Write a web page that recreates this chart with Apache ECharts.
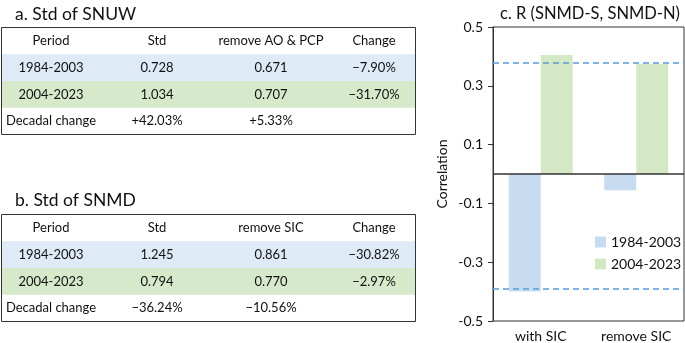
<!DOCTYPE html>
<html>
<head>
<meta charset="utf-8">
<script src="https://cdn.jsdelivr.net/npm/echarts@6/dist/echarts.min.js"></script>
<style>
html, body { margin: 0; padding: 0; background: #fff; }
#main { width: 685px; height: 343px; }
</style>
</head>
<body>
<div id="main"></div>
<script>
// table a
var headA = ['Period', 'Std', 'remove AO & PCP', 'Change'];
var rowsA = [
    ['1984-2003', '0.728', '0.671', '−7.90%'],
    ['2004-2023', '1.034', '0.707', '−31.70%'],
    ['Decadal change', '+42.03%', '+5.33%', '']
];
// table b
var headB = ['Period', 'Std', 'remove SIC', 'Change'];
var rowsB = [
    ['1984-2003', '1.245', '0.861', '−30.82%'],
    ['2004-2023', '0.794', '0.770', '−2.97%'],
    ['Decadal change', '−36.24%', '−10.56%', '']
];
// panel c
var categories = ['with SIC', 'remove SIC'];
var periods = ['1984-2003', '2004-2023'];
var rEarly = [-0.40, -0.055];
var rLate = [0.405, 0.375];
var sigLevels = [0.378, -0.388];
var yTicks = [-0.5, -0.3, -0.1, 0.1, 0.3, 0.5];

var FONT = 'Lato, "Noto Sans", sans-serif';
var colX = [51, 157, 271, 374];
var rowFill = ['#deeaf6', '#d7e9cb', null];

function buildTable(top, head, rows) {
    var h = 26.75, left = 1.5, w = 414;
    var els = [];
    rows.forEach(function (r, i) {
        if (rowFill[i]) {
            els.push({
                type: 'rect',
                shape: { x: left, y: top + h * (i + 1), width: w, height: h },
                style: { fill: rowFill[i] }
            });
        }
    });
    els.push({
        type: 'rect',
        shape: { x: left, y: top, width: w, height: h * 4 },
        style: { fill: null, stroke: '#333', lineWidth: 1 }
    });
    [head].concat(rows).forEach(function (r, i) {
        r.forEach(function (t, j) {
            els.push({
                type: 'text',
                x: colX[j],
                y: top + h * i + h / 2,
                style: {
                    text: t,
                    fill: '#111',
                    fontSize: 13,
                    fontFamily: FONT,
                    align: 'center',
                    verticalAlign: 'middle'
                }
            });
        });
    });
    return els;
}

var myChart = echarts.init(document.getElementById('main'));
var option = {
    animation: false,
    textStyle: { fontFamily: FONT },
    title: [{
        text: 'a. Std of SNUW',
        left: 10, top: 0,
        textStyle: { fontSize: 17.5, fontWeight: 'normal', color: '#111', fontFamily: FONT }
    }, {
        text: 'b. Std of SNMD',
        left: 10, top: 186,
        textStyle: { fontSize: 17.5, fontWeight: 'normal', color: '#111', fontFamily: FONT }
    }, {
        text: 'c. R (SNMD-S, SNMD-N)',
        left: 585, top: 0, textAlign: 'center',
        textStyle: { fontSize: 16.5, fontWeight: 'normal', color: '#111', fontFamily: FONT }
    }],
    graphic: buildTable(27.5, headA, rowsA).concat(buildTable(214.5, headB, rowsB)),
    legend: {
        data: periods,
        orient: 'vertical',
        left: 590,
        top: 230,
        icon: 'rect',
        itemWidth: 11,
        itemHeight: 11,
        itemGap: 8,
        textStyle: { fontSize: 14, color: '#111', fontFamily: FONT }
    },
    grid: {
        left: 493,
        right: 1,
        top: 27,
        bottom: 21,
        show: true,
        borderColor: '#333',
        borderWidth: 1
    },
    xAxis: {
        type: 'category',
        data: categories,
        axisLine: { show: false },
        axisTick: { show: false },
        axisLabel: { fontSize: 14, color: '#111', margin: 8 }
    },
    yAxis: {
        type: 'value',
        min: -0.5,
        max: 0.5,
        name: 'Correlation',
        nameLocation: 'middle',
        nameGap: 44,
        nameTextStyle: { fontSize: 14, color: '#111' },
        axisLine: { show: true, lineStyle: { color: '#333' } },
        axisTick: { show: true, length: 5, customValues: yTicks, lineStyle: { color: '#333' } },
        axisLabel: {
            customValues: yTicks,
            fontSize: 14,
            color: '#111',
            margin: 10,
            formatter: function (v) { return v.toFixed(1); }
        },
        splitLine: { show: false }
    },
    series: [{
        name: periods[0],
        type: 'bar',
        data: rEarly,
        barWidth: 32,
        barGap: '0%',
        itemStyle: { color: '#c7dcf1' },
        markLine: {
            silent: true,
            symbol: 'none',
            label: { show: false },
            lineStyle: { color: '#333', type: 'solid', width: 1.5 },
            data: [{ yAxis: 0 }]
        }
    }, {
        name: periods[1],
        type: 'bar',
        data: rLate,
        barWidth: 32,
        itemStyle: { color: '#d5e8c6' },
        markLine: {
            silent: true,
            symbol: 'none',
            label: { show: false },
            lineStyle: { color: '#5b9bd5', type: [6, 4], width: 1.5 },
            data: sigLevels.map(function (v) { return { yAxis: v }; })
        }
    }]
};
myChart.setOption(option);
</script>
</body>
</html>
